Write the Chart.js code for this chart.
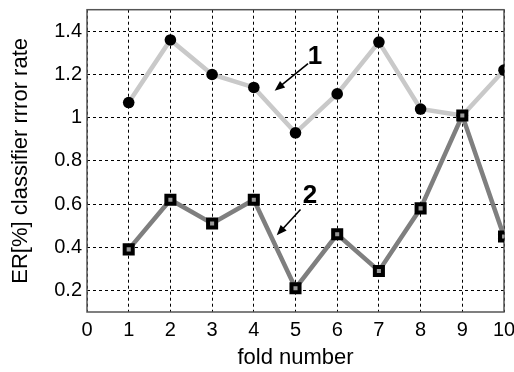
<!DOCTYPE html>
<html>
<head>
<meta charset="utf-8">
<script src="https://cdn.jsdelivr.net/npm/chart.js@4"></script>
<style>
  html, body { margin: 0; padding: 0; background: #fff; }
  #wrap { width: 514px; height: 372px; }
</style>
</head>
<body>
<div id="wrap"><canvas id="erChart" width="514" height="372"></canvas></div>
<script>
const folds = [1, 2, 3, 4, 5, 6, 7, 8, 9, 10];
const errCurve1 = [1.07, 1.36, 1.20, 1.14, 0.93, 1.11, 1.35, 1.04, 1.01, 1.22];
const errCurve2 = [0.39, 0.62, 0.51, 0.62, 0.21, 0.46, 0.29, 0.58, 1.01, 0.45];
const yTicks = [0.2, 0.4, 0.6, 0.8, 1.0, 1.2, 1.4];

// callouts in data units: label position, arrow tail, arrow head
const callouts = [
  { text: '1', at: [5.47, 1.28], from: [5.3, 1.25], to: [4.5, 1.125] },
  { text: '2', at: [5.35, 0.64], from: [5.12, 0.575], to: [4.55, 0.455] }
];

const font = 'Liberation Sans, Arial, sans-serif';

const framePlugin = {
  id: 'frame',
  beforeDatasetsDraw(chart) {
    const { ctx, chartArea: a } = chart;
    ctx.save();
    ctx.strokeStyle = '#555';
    ctx.lineWidth = 1.5;
    ctx.strokeRect(a.left, a.top, a.right - a.left, a.bottom - a.top);
    ctx.restore();
  }
};

const calloutPlugin = {
  id: 'callouts',
  afterDatasetsDraw(chart) {
    const { ctx, scales: { x, y } } = chart;
    ctx.save();
    callouts.forEach(c => {
      const tx = x.getPixelForValue(c.at[0]), ty = y.getPixelForValue(c.at[1]);
      ctx.fillStyle = '#000';
      ctx.font = 'bold 26px ' + font;
      ctx.textAlign = 'center';
      ctx.textBaseline = 'middle';
      ctx.fillText(c.text, tx, ty);

      const x0 = x.getPixelForValue(c.from[0]), y0 = y.getPixelForValue(c.from[1]);
      const x1 = x.getPixelForValue(c.to[0]), y1 = y.getPixelForValue(c.to[1]);
      const ang = Math.atan2(y1 - y0, x1 - x0);
      ctx.strokeStyle = '#000';
      ctx.lineWidth = 1.6;
      ctx.beginPath();
      ctx.moveTo(x0, y0);
      ctx.lineTo(x1 - 6 * Math.cos(ang), y1 - 6 * Math.sin(ang));
      ctx.stroke();
      ctx.beginPath();
      ctx.moveTo(x1, y1);
      ctx.lineTo(x1 - 11 * Math.cos(ang - 0.38), y1 - 11 * Math.sin(ang - 0.38));
      ctx.lineTo(x1 - 11 * Math.cos(ang + 0.38), y1 - 11 * Math.sin(ang + 0.38));
      ctx.closePath();
      ctx.fill();
    });
    ctx.restore();
  }
};

new Chart(document.getElementById('erChart').getContext('2d'), {
  type: 'line',
  data: {
    datasets: [
      {
        data: folds.map((f, i) => ({ x: f, y: errCurve2[i] })),
        borderColor: '#7f7f7f',
        borderWidth: 4.5,
        pointStyle: 'rect',
        pointRadius: 5.7,
        pointBorderWidth: 4,
        pointBorderColor: '#000',
        pointBackgroundColor: '#9a9a9a',
        tension: 0,
        order: 0
      },
      {
        data: folds.map((f, i) => ({ x: f, y: errCurve1[i] })),
        borderColor: '#c9c9c9',
        borderWidth: 4.5,
        pointStyle: 'circle',
        pointRadius: 5.8,
        pointBorderWidth: 0,
        pointBackgroundColor: '#000',
        tension: 0,
        order: 1
      }
    ]
  },
  options: {
    responsive: false,
    animation: false,
    events: [],
    layout: { padding: { left: 0, right: 10, top: 8, bottom: 0 } },
    plugins: { legend: { display: false }, tooltip: { enabled: false } },
    scales: {
      x: {
        type: 'linear',
        min: 0,
        max: 10,
        ticks: { stepSize: 1, padding: 6, color: '#000', font: { family: font, size: 20 } },
        grid: { color: '#000', lineWidth: 1, drawTicks: false },
        border: { display: false, dash: [3, 3] },
        title: {
          display: true, text: 'fold number', color: '#000',
          font: { family: font, size: 22 }, padding: { top: 0, bottom: 1 }
        },
        afterFit(s) { s.height = 60; s.paddingLeft = 0; s.paddingRight = 0; }
      },
      y: {
        min: 0.1,
        max: 1.5,
        afterBuildTicks(s) { s.ticks = yTicks.map(v => ({ value: v })); },
        ticks: {
          padding: 5, color: '#000', font: { family: font, size: 20 },
          callback: v => String(Math.round(v * 10) / 10)
        },
        grid: { color: '#000', lineWidth: 1, drawTicks: false },
        border: { display: false, dash: [3, 3] },
        title: {
          display: true, text: 'ER[%] classifier rrror rate', color: '#000',
          font: { family: font, size: 22 }, padding: { top: 8, bottom: 0 }
        },
        afterFit(s) { s.width = 87; s.paddingTop = 0; s.paddingBottom = 0; }
      }
    }
  },
  plugins: [framePlugin, calloutPlugin]
});
</script>
</body>
</html>
